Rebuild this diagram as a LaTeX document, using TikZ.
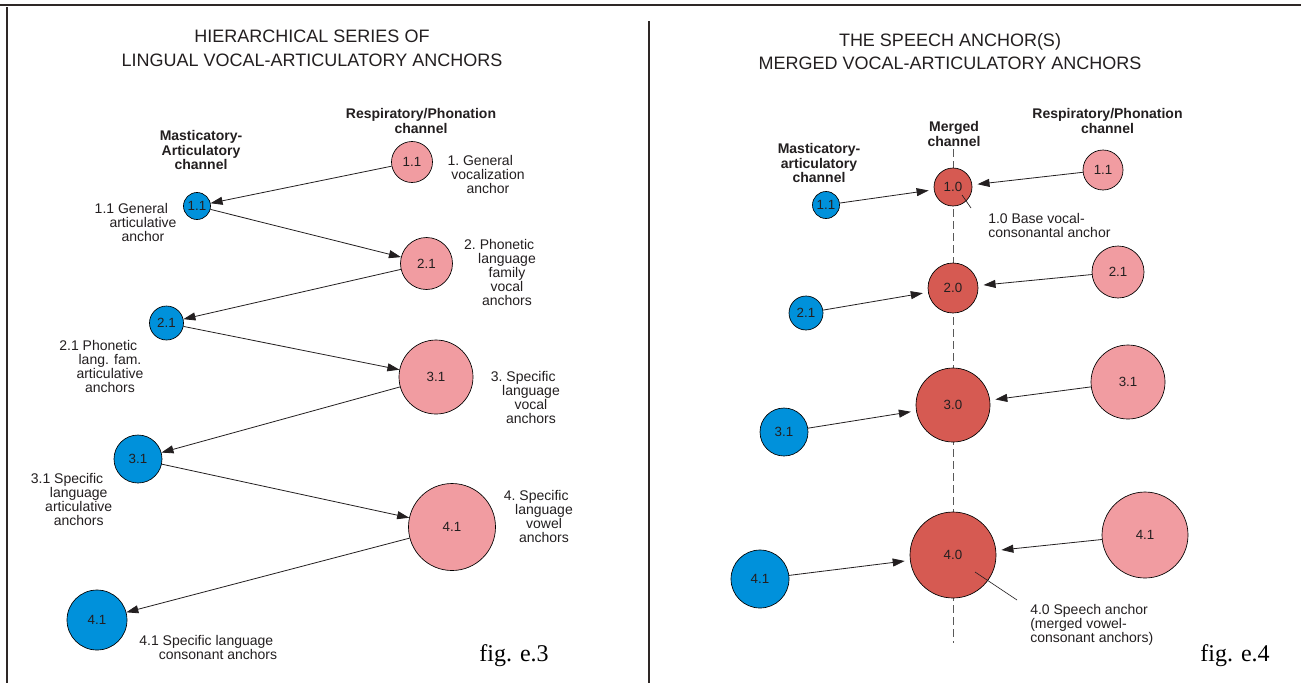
\documentclass[tikz,border=0pt]{standalone}
\usepackage{fontspec}
\setmainfont{Liberation Sans}
\newfontfamily\figfont{Liberation Serif}
\usetikzlibrary{arrows.meta}
\definecolor{pinkc}{HTML}{F19CA1}
\definecolor{bluec}{HTML}{0091DB}
\definecolor{redc}{HTML}{D65A52}
\definecolor{txt}{HTML}{231F20}
\definecolor{frame}{HTML}{2E2826}
\newcommand\hn[1]{\llap{#1\ }}
\begin{document}
\begin{tikzpicture}[x=0.75pt,y=-0.75pt,
 circ/.style={circle,draw=black,line width=0.5pt,inner sep=0pt,text=txt,font=\fontsize{10}{10}\selectfont},
 bl/.style={circ,fill=bluec},
 pk/.style={circ,fill=pinkc},
 rd/.style={circ,fill=redc},
 lab/.style={text=txt,font=\fontsize{10.5}{10.5}\selectfont,align=center,inner sep=0pt},
 hdr/.style={text=txt,font=\bfseries\fontsize{10.5}{10.8}\selectfont,align=center,inner sep=0pt},
 ttl/.style={text=txt,font=\fontsize{13.5}{17.8}\selectfont,align=center,inner sep=0pt},
 figlab/.style={text=black,font=\figfont\fontsize{18}{18}\selectfont,inner sep=0pt},
 arr/.style={-{Triangle[length=9pt,width=6pt]},line width=0.6pt,draw=txt},
 framel/.style={draw=frame,line width=1.1pt},
]
\fill[white] (0,0) rectangle (1301,683);
\useasboundingbox (0,0) rectangle (1301,683);

% frame
\draw[framel,line width=1.5pt] (0,5) -- (1301,5);
\draw[framel] (7,7) -- (7,683);
\draw[framel] (649,21) -- (649,683);

% ---------- left panel ----------
\node[ttl] (t1) at (312,48) {HIERARCHICAL SERIES OF\\LINGUAL VOCAL-ARTICULATORY ANCHORS};
\node[hdr] (rpl) at (421,121) {Respiratory/Phonation\\channel};
\node[hdr] (mal) at (201,150) {Masticatory-\\Articulatory\\channel};

\node[pk,minimum size=30.75pt] (p1) at (412,162) {1.1};
\node[pk,minimum size=39pt] (p2) at (426.5,263.5) {2.1};
\node[pk,minimum size=55.5pt] (p3) at (436,377) {3.1};
\node[pk,minimum size=65.25pt] (p4) at (452,527) {4.1};

\node[bl,minimum size=20.25pt] (b1) at (197,206) {1.1};
\node[bl,minimum size=25.5pt] (b2) at (166.5,323) {2.1};
\node[bl,minimum size=36pt] (b3) at (138,459) {3.1};
\node[bl,minimum size=45pt] (b4) at (97,620) {4.1};

\draw[arr] (p1) -- (b1);
\draw[arr] (b1) -- (p2);
\draw[arr] (p2) -- (b2);
\draw[arr] (b2) -- (p3);
\draw[arr] (p3) -- (b3);
\draw[arr] (b3) -- (p4);
\draw[arr] (p4) -- (b4);

\node[lab] (l1) at (488,174.5) {\hn{1.}General\\vocalization\\anchor};
\node[lab] (l11) at (143,222) {\hn{1.1}General\\articulative\\anchor};
\node[lab] (l2) at (507,272.5) {\hn{2.}Phonetic\\language\\family\\vocal\\anchors};
\node[lab] (l21) at (110,366.7) {\hn{2.1}Phonetic\\lang. fam.\\articulative\\anchors};
\node[lab] (l3) at (531,397.8) {\hn{3.}Specific\\language\\vocal\\anchors};
\node[lab] (l31) at (78.7,499.7) {\hn{3.1}Specific\\language\\articulative\\anchors};
\node[lab] (l4) at (544,516.5) {\hn{4.}Specific\\language\\vowel\\anchors};
\node[lab] (l41) at (218,647.5) {\hn{4.1}Specific language\\consonant anchors};
\node[figlab] (f3) at (514,656) {fig. e.3};

% ---------- right panel ----------
\node[ttl] (t2) at (950,51.5) {THE SPEECH ANCHOR(S)\\MERGED VOCAL-ARTICULATORY ANCHORS};
\node[hdr] (rpr) at (1107.5,121) {Respiratory/Phonation\\channel};
\node[hdr] (mgr) at (954,134) {Merged\\channel};
\node[hdr] (mar) at (819,163) {Masticatory-\\articulatory\\channel};

\coordinate (dtop) at (953,149);
\coordinate (dbot) at (953,643);
\draw[draw=black!65,line width=0.6pt,dash pattern=on 6pt off 3pt] (dtop) -- (dbot);

\node[rd,minimum size=28.5pt] (m1) at (953,187) {1.0};
\node[rd,minimum size=37.5pt] (m2) at (953,288) {2.0};
\node[rd,minimum size=55.5pt] (m3) at (953,405) {3.0};
\node[rd,minimum size=64.5pt] (m4) at (953,555) {4.0};

\node[bl,minimum size=20.25pt] (rb1) at (826,205) {1.1};
\node[bl,minimum size=25.5pt] (rb2) at (806,313) {2.1};
\node[bl,minimum size=36pt] (rb3) at (784,432) {3.1};
\node[bl,minimum size=43.5pt] (rb4) at (760,579) {4.1};

\node[pk,minimum size=30pt] (rp1) at (1103,170) {1.1};
\node[pk,minimum size=39pt] (rp2) at (1118,272) {2.1};
\node[pk,minimum size=55.5pt] (rp3) at (1128,382) {3.1};
\node[pk,minimum size=64.5pt] (rp4) at (1145,535) {4.1};

\draw[arr,shorten >=4pt] (rb1) -- (m1);
\draw[arr,shorten >=4pt] (rp1) -- (m1);
\draw[arr,shorten >=4pt] (rb2) -- (m2);
\draw[arr,shorten >=4pt] (rp2) -- (m2);
\draw[arr,shorten >=4pt] (rb3) -- (m3);
\draw[arr,shorten >=4pt] (rp3) -- (m3);
\draw[arr,shorten >=4pt] (rb4) -- (m4);
\draw[arr,shorten >=4pt] (rp4) -- (m4);

\coordinate (m1a) at (962,195);
\coordinate (m1b) at (971,208);
\draw[draw=txt,line width=0.5pt] (m1a) -- (m1b);
\coordinate (m4a) at (975,572);
\coordinate (m4b) at (1017,600);
\draw[draw=txt,line width=0.5pt] (m4a) -- (m4b);

\node[lab,align=left,anchor=west] (l10) at (988,225) {1.0 Base vocal-\\consonantal anchor};
\node[lab,align=left,anchor=west] (l40) at (1030,625) {4.0 Speech anchor\\(merged vowel-\\consonant anchors)};
\node[figlab] (f4) at (1235,656) {fig. e.4};
\end{tikzpicture}
\end{document}
